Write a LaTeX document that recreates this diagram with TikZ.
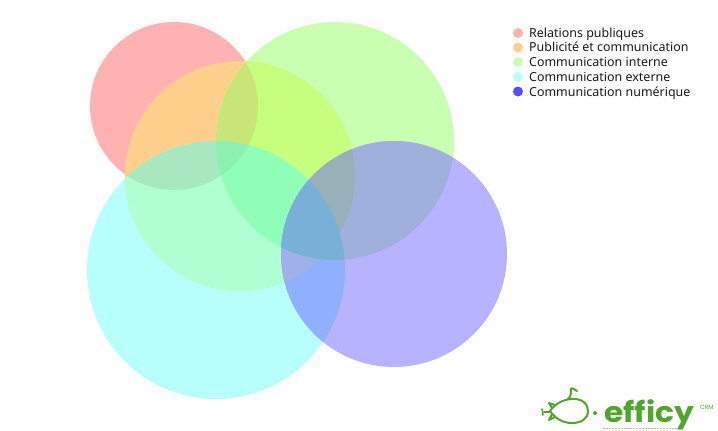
\documentclass[tikz,border=0pt]{standalone}
\usepackage{fontspec}
\setmainfont{Noto Sans}
\newfontfamily\logofont{Poppins}
\definecolor{logog}{HTML}{4FA62B}
\definecolor{colR}{HTML}{FFB2B2}
\definecolor{colO}{HTML}{FFD08C}
\definecolor{colG}{HTML}{C8FFB0}
\definecolor{colC}{HTML}{B6FFFA}
\definecolor{colV}{HTML}{B8B3FF}
\definecolor{colD}{HTML}{554BFF}
\newcommand\cR{(174,106) circle[radius=84pt]}
\newcommand\cO{(240,176) circle[radius=115pt]}
\newcommand\cG{(335,141) circle[radius=119pt]}
\newcommand\cC{(216,270) circle[radius=129pt]}
\newcommand\cV{(394,254) circle[radius=113pt]}
\newcommand\zoneB[3]{\definecolor{zc}{HTML}{#1}\begin{scope}\clip #2;\clip #3;\fill[zc] (0,0) rectangle (718,431);\end{scope}}
\newcommand\zoneC[4]{\definecolor{zc}{HTML}{#1}\begin{scope}\clip #2;\clip #3;\clip #4;\fill[zc] (0,0) rectangle (718,431);\end{scope}}
\newcommand\zoneD[5]{\definecolor{zc}{HTML}{#1}\begin{scope}\clip #2;\clip #3;\clip #4;\clip #5;\fill[zc] (0,0) rectangle (718,431);\end{scope}}
\tikzset{
  dot/.style={circle,inner sep=0pt,minimum size=10pt},
  lab/.style={anchor=base west,inner sep=0pt,font=\fontsize{12.45}{14}\selectfont,text=black!90},
  logoline/.style={draw=logog,line width=2pt,line cap=round,line join=round}
}
\begin{document}
\begin{tikzpicture}[x=1pt,y=-1pt]
\useasboundingbox (0,0) rectangle (718,431);
\fill[white] (0,0) rectangle (718,431);
% single circles
\fill[colR] \cR;
\fill[colG] \cG;
\fill[colC] \cC;
\fill[colV] \cV;
\fill[colO] \cO;
% two circles
\zoneB{D8E8A0}{\cR}{\cG}
\zoneB{C6FF7E}{\cO}{\cG}
\zoneB{B0FFD2}{\cO}{\cC}
\zoneB{94FFB8}{\cG}{\cC}
\zoneB{A0B0DC}{\cG}{\cV}
\zoneB{8FB0FF}{\cC}{\cV}
% three circles
\zoneC{C8E678}{\cR}{\cO}{\cG}
\zoneC{A8E8C0}{\cR}{\cO}{\cC}
\zoneC{8FFFB8}{\cO}{\cG}{\cC}
\zoneC{98B0B8}{\cO}{\cG}{\cV}
\zoneC{A0B0E8}{\cO}{\cC}{\cV}
\zoneC{78B0D8}{\cG}{\cC}{\cV}
% four circles
\zoneD{8CF0B0}{\cR}{\cO}{\cG}{\cC}
\zoneD{78B0D8}{\cO}{\cG}{\cC}{\cV}
% legend
\node[dot,fill=colR] (d1) at (518,33) {};
\node[dot,fill=colO] (d2) at (518,47.5) {};
\node[dot,fill=colG] (d3) at (518,62) {};
\node[dot,fill=colC] (d4) at (518,77) {};
\node[dot,fill=colD] (d5) at (518,91.5) {};
\node[lab] (l1) at (529,37) {Relations publiques};
\node[lab] (l2) at (529,51.5) {Publicité et communication};
\node[lab] (l3) at (529,66) {Communication interne};
\node[lab] (l4) at (529,81) {Communication externe};
\node[lab] (l5) at (529,96) {Communication numérique};
% logo
\draw[logoline] (550,411) .. controls (555,404) and (562,400) .. (571,399)
  .. controls (582,398) and (588,404) .. (588,411)
  .. controls (588,419) and (581,423) .. (572,423)
  .. controls (562,423) and (555,418) .. (550,411) -- cycle;
\draw[logoline] (552,408) -- (549,403) -- (555,405);
\draw[logoline] (552,414) -- (549,420) -- (555,417);
\draw[logoline] (550,412) -- (544,412);
\draw[logoline,line width=1.6pt] (542,409) -- (543,415);
\draw[logoline] (568,399) .. controls (571,396) and (571,394) .. (571,389) .. controls (572,387) and (575,390) .. (577,391);
\fill[logog] (595,413) circle[radius=2pt];
\node[anchor=base west,inner sep=0pt,text=logog,xscale=1.1,font=\logofont\bfseries\fontsize{28.5}{29}\selectfont] (eff) at (604,422.5) {efficy};
\node[anchor=west,inner sep=0pt,text=logog,font=\logofont\fontsize{6}{7}\selectfont] (crm) at (700,407) {CRM};
\draw[logog!60!gray,line width=1pt,opacity=.55,dash pattern=on 2pt off 1pt] (603,428) -- (678,428);
\end{tikzpicture}
\end{document}
